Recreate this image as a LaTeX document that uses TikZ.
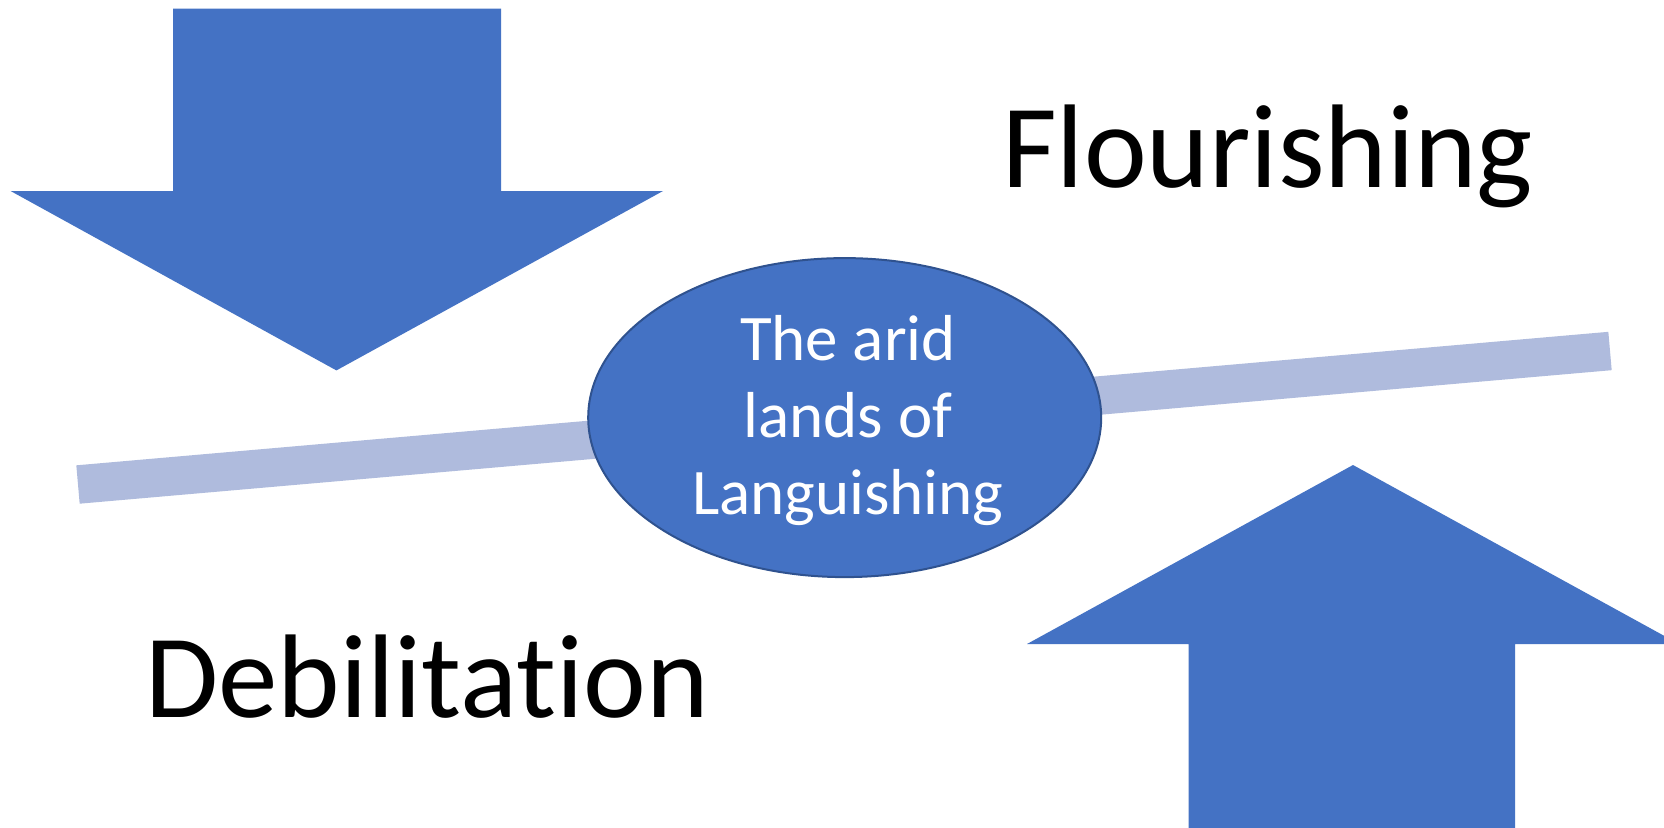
\documentclass[tikz,border=0pt]{standalone}
\usepackage{fontspec}
\setmainfont[RawFeature={-liga;-dlig;-clig}]{Carlito}
\usetikzlibrary{shapes.geometric}
\definecolor{arrowblue}{HTML}{4472C4}
\definecolor{rimblue}{HTML}{2F528F}
\definecolor{barblue}{HTML}{AFBBDD}
\begin{document}
\begin{tikzpicture}[x=1pt,y=-1pt,
  blockarrow/.style={fill=arrowblue},
  bigword/.style={anchor=base west, inner sep=0pt, font=\fontsize{119}{119}\selectfont},
  land/.style={ellipse, fill=arrowblue, draw=rimblue, line width=2pt,
    minimum width=513pt, minimum height=319pt, inner sep=0pt}]
\useasboundingbox (0,0) rectangle (1664,827);
\clip (0,0) rectangle (1664,827);
\fill[white] (0,0) rectangle (1664,827);
% downward block arrow
\fill[blockarrow] (173,8.5) -- (501,8.5) -- (501,191) -- (663,191) -- (336.4,370.4)
  -- (10.6,191) -- (173,191) -- cycle;
% upward block arrow, running off the bottom and right edges
\fill[blockarrow] (1188.5,830) -- (1188.5,644) -- (1027,644) -- (1353,465)
  -- (1679,644) -- (1515,644) -- (1515,830) -- cycle;
% tilted bar behind the centre ellipse
\coordinate (barL) at (78,484.5);
\coordinate (barR) at (1610,351);
\draw[barblue, line width=38.5pt] (barL) -- (barR);
\node[land] (arid) at (844.7,417.6) {};
\node[text=white, align=center, inner sep=0pt,
  font=\fontsize{65}{77}\selectfont] (aridtext) at (848,421) {The arid\\lands of\\Languishing};
\node[bigword] (flour) at (1002,187) {Flourishing};
\node[bigword] (debil) at (145,717) {Debilitation};
\end{tikzpicture}
\end{document}
